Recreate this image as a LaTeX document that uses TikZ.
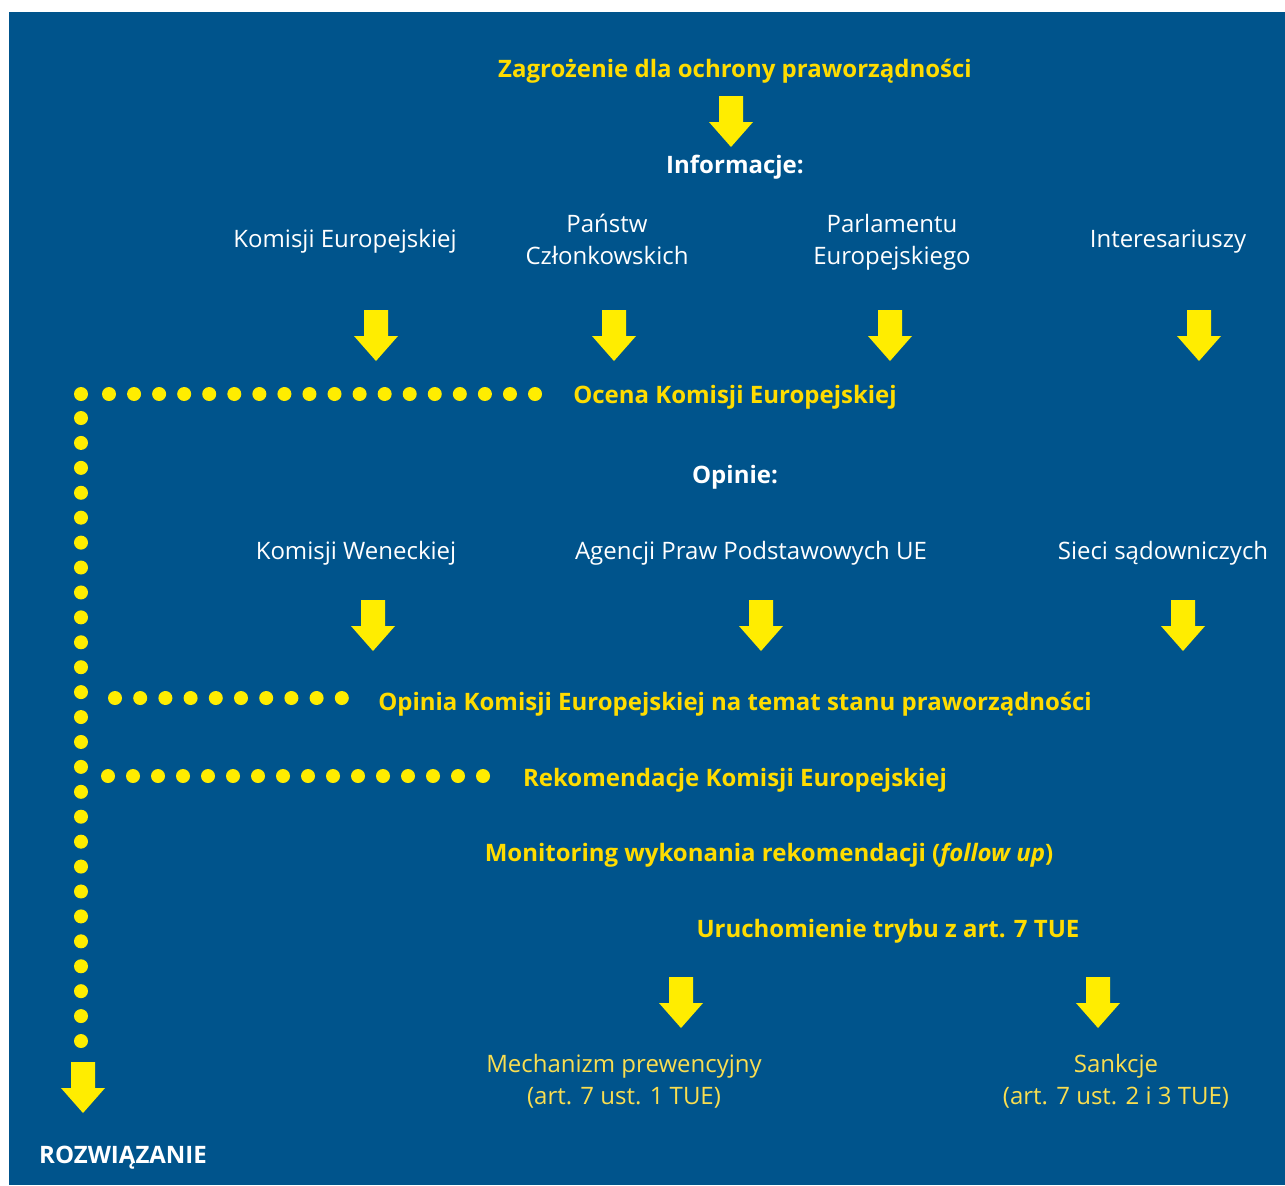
\documentclass[tikz,border=0pt]{standalone}
\usepackage{fontspec}
\setmainfont{Open Sans}
\definecolor{bluebg}{RGB}{0,84,140}
\definecolor{arryel}{RGB}{255,237,0}
\definecolor{boldyel}{RGB}{255,220,0}
\definecolor{softyel}{RGB}{250,222,80}
\tikzset{
  head/.style={font=\fontsize{12}{14}\selectfont\bfseries, text=boldyel, anchor=base, inner sep=0pt},
  headw/.style={font=\fontsize{12}{14}\selectfont\bfseries, text=white, anchor=base, inner sep=0pt},
  plainw/.style={font=\fontsize{12}{14}\selectfont, text=white, anchor=base, inner sep=0pt},
  plainy/.style={font=\fontsize{12}{14}\selectfont, text=softyel, anchor=base, inner sep=0pt},
  downarrow/.pic={\fill[arryel] (-12,0) -- (12,0) -- (12,26) -- (22,26) -- (0,51) -- (-22,26) -- (-12,26) -- cycle;},
  ydot/.style={fill=arryel, draw=none}
}
\begin{document}
\begin{tikzpicture}[x=0.5pt,y=-0.5pt]
\useasboundingbox (0,0) rectangle (1285,1185);
\fill[white] (0,0) rectangle (1285,1185);
\fill[bluebg] (9,12) rectangle (1285,1185);

% texts
\node[head] (zag) at (735,77) {Zagrożenie dla ochrony praworządności};
\node[headw] (inf) at (735,173) {Informacje:};
\node[plainw] (ke) at (345,247) {Komisji Europejskiej};
\node[plainw] (pc1) at (607,232) {Państw};
\node[plainw] (pc2) at (607,264) {Członkowskich};
\node[plainw] (pe1) at (892,232) {Parlamentu};
\node[plainw] (pe2) at (892,264) {Europejskiego};
\node[plainw] (int) at (1168,247) {Interesariuszy};
\node[head] (ocena) at (735,403) {Ocena Komisji Europejskiej};
\node[headw] (opn) at (735,483) {Opinie:};
\node[plainw] (kw) at (356,559) {Komisji Weneckiej};
\node[plainw] (apu) at (751,559) {Agencji Praw Podstawowych UE};
\node[plainw] (ss) at (1163,559) {Sieci sądowniczych};
\node[head] (opinia) at (735,710) {Opinia Komisji Europejskiej na temat stanu praworządności};
\node[head] (rek) at (735,786) {Rekomendacje Komisji Europejskiej};
\node[head] (mon) at (769,861) {Monitoring wykonania rekomendacji (\textit{follow up})};
\node[head] (uru) at (888,937) {Uruchomienie trybu z art. 7 TUE};
\node[plainy] (mp1) at (624,1072) {Mechanizm prewencyjny};
\node[plainy] (mp2) at (624,1104) {(art. 7 ust. 1 TUE)};
\node[plainy] (sa1) at (1116,1072) {Sankcje};
\node[plainy] (sa2) at (1116,1104) {(art. 7 ust. 2 i 3 TUE)};
\node[headw] (roz) at (123,1163) {ROZWIĄZANIE};

% arrows
\pic at (731,96) {downarrow};
\foreach \x in {376,614,890,1199} \pic at (\x,310) {downarrow};
\foreach \x in {373,761,1183} \pic at (\x,600) {downarrow};
\foreach \x in {681,1098} \pic at (\x,977) {downarrow};
\pic at (83,1062) {downarrow};

% dots
\fill[ydot] (81,394) circle[radius=7];
\foreach \i in {0,...,17} \fill[ydot] ({109+\i*25.06},394) circle[radius=7];
\foreach \i in {0,...,25} \fill[ydot] (81,{418+\i*24.92}) circle[radius=7];
\foreach \i in {0,...,9} \fill[ydot] ({115+\i*25.2},698) circle[radius=7];
\foreach \i in {0,...,15} \fill[ydot] ({108+\i*25},776) circle[radius=7];
\end{tikzpicture}
\end{document}
